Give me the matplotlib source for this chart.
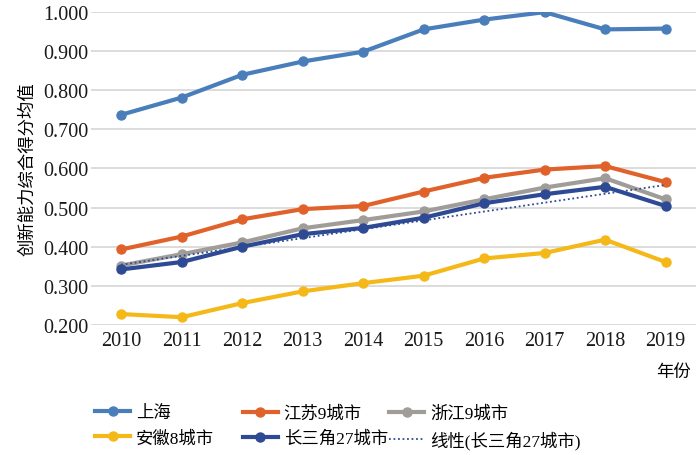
import numpy as np
import matplotlib
matplotlib.use("Agg")
import matplotlib.pyplot as plt

plt.rcParams['font.family'] = ['Liberation Serif', 'Noto Sans CJK SC']

years = [2010, 2011, 2012, 2013, 2014, 2015, 2016, 2017, 2018, 2019]
shanghai = [0.737, 0.781, 0.839, 0.873, 0.898, 0.955, 0.980, 0.999, 0.955, 0.957]
jiangsu = [0.393, 0.426, 0.470, 0.496, 0.504, 0.541, 0.576, 0.597, 0.606, 0.565]
zhejiang = [0.352, 0.381, 0.411, 0.447, 0.468, 0.490, 0.521, 0.551, 0.575, 0.521]
anhui = [0.228, 0.220, 0.256, 0.286, 0.307, 0.326, 0.370, 0.384, 0.418, 0.361]
csj27 = [0.342, 0.361, 0.400, 0.432, 0.448, 0.474, 0.511, 0.534, 0.553, 0.504]

names = ['上海', '江苏9城市', '浙江9城市', '安徽8城市', '长三角27城市']
colors = ['#4a7ebb', '#e0622a', '#a09c98', '#f5b819', '#2e4a94']

fig = plt.figure(figsize=(7, 4.56), dpi=100)
ax = fig.add_axes([0.130, 0.285, 0.864, 0.687])

x = np.arange(len(years))
series = [shanghai, jiangsu, zhejiang, anhui, csj27]
handles = []
for s, name, c in zip(series, names, colors):
    h, = ax.plot(x, s, color=c, lw=3, marker='o', ms=6.5, label=name, zorder=3)
    handles.append(h)

# linear trend of the 27-city series
k, b = np.polyfit(x, csj27, 1)
h, = ax.plot(x, k * x + b, color='#2e4a94', lw=1.3, ls=(0, (1, 1.5)),
             label='线性(长三角27城市)', zorder=4)
handles.append(h)

ax.set_xlim(-0.5, len(years) - 0.5)
ax.set_ylim(0.2, 1.0)
ax.set_yticks(np.arange(0.2, 1.001, 0.1))
ax.yaxis.set_major_formatter(matplotlib.ticker.FormatStrFormatter('%.3f'))
ax.set_xticks(x)
ax.set_xticklabels([str(y) for y in years])
ax.grid(axis='y', color='#d9d9d9', lw=1.3)
ax.set_axisbelow(True)
for sp in ax.spines.values():
    sp.set_visible(False)
ax.tick_params(length=0, labelsize=14.5, colors='#1a1a1a', pad=4)
ax.tick_params(axis='y', pad=2)
ax.set_ylabel('创新能力综合得分均值', fontsize=12.5, labelpad=5)

fig.text(0.962, 0.183, '年份', fontsize=12.5, ha='center', va='center')

# legend: three columns placed separately
cols = [[0, 3], [1, 4], [2, 5]]
xpos = [0.136, 0.347, 0.556]
for idx, xp in zip(cols, xpos):
    fig.legend([handles[i] for i in idx], [handles[i].get_label() for i in idx],
               loc='upper left', bbox_to_anchor=(xp, 0.109), frameon=False,
               fontsize=12.5, handlelength=2.0, labelspacing=0.5,
               handletextpad=0.35, borderpad=0, borderaxespad=0)

fig.savefig('out.png', dpi=100)
